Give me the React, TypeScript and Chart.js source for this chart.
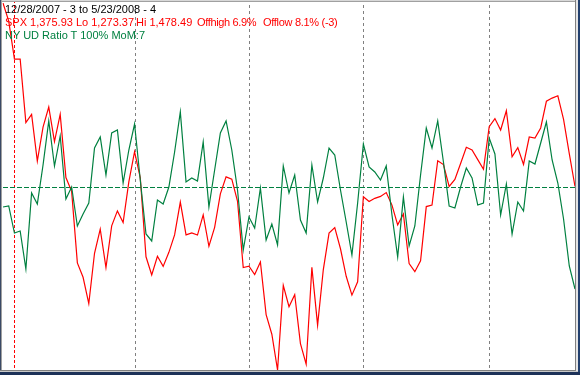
import React, { useEffect, useRef } from "react";
import { Chart, registerables } from "chart.js";

Chart.register(...registerables);

// ---- data ----
const dates: string[] = [
  "12/28/2007", "12/31/2007",
  "1/2/2008", "1/3/2008", "1/4/2008", "1/7/2008", "1/8/2008", "1/9/2008", "1/10/2008", "1/11/2008",
  "1/14/2008", "1/15/2008", "1/16/2008", "1/17/2008", "1/18/2008", "1/22/2008", "1/23/2008", "1/24/2008",
  "1/25/2008", "1/28/2008", "1/29/2008", "1/30/2008", "1/31/2008",
  "2/1/2008", "2/4/2008", "2/5/2008", "2/6/2008", "2/7/2008", "2/8/2008", "2/11/2008", "2/12/2008",
  "2/13/2008", "2/14/2008", "2/15/2008", "2/19/2008", "2/20/2008", "2/21/2008", "2/22/2008", "2/25/2008",
  "2/26/2008", "2/27/2008", "2/28/2008", "2/29/2008",
  "3/3/2008", "3/4/2008", "3/5/2008", "3/6/2008", "3/7/2008", "3/10/2008", "3/11/2008", "3/12/2008",
  "3/13/2008", "3/14/2008", "3/17/2008", "3/18/2008", "3/19/2008", "3/20/2008", "3/24/2008", "3/25/2008",
  "3/26/2008", "3/27/2008", "3/28/2008", "3/31/2008",
  "4/1/2008", "4/2/2008", "4/3/2008", "4/4/2008", "4/7/2008", "4/8/2008", "4/9/2008", "4/10/2008",
  "4/11/2008", "4/14/2008", "4/15/2008", "4/16/2008", "4/17/2008", "4/18/2008", "4/21/2008", "4/22/2008",
  "4/23/2008", "4/24/2008", "4/25/2008", "4/28/2008", "4/29/2008", "4/30/2008",
  "5/1/2008", "5/2/2008", "5/5/2008", "5/6/2008", "5/7/2008", "5/8/2008", "5/9/2008", "5/12/2008",
  "5/13/2008", "5/14/2008", "5/15/2008", "5/16/2008", "5/19/2008", "5/20/2008", "5/22/2008", "5/23/2008",
];

const spxClose: number[] = [
  1478.49, 1468.36,
  1447.16, 1447.16, 1411.63, 1416.18, 1390.19, 1409.13, 1420.33, 1401.02, 1416.25, 1380.95, 1373.2,
  1333.25, 1325.19, 1310.5, 1338.6, 1352.07, 1330.61, 1353.96, 1362.3, 1355.81, 1378.55,
  1395.42, 1380.82, 1336.64, 1326.45, 1336.91, 1331.29, 1339.13, 1348.86, 1367.21, 1348.86, 1349.99,
  1348.78, 1360.03, 1342.53, 1353.11, 1371.8, 1381.29, 1380.02, 1367.68, 1330.63,
  1331.34, 1326.75, 1333.7, 1304.34, 1293.37, 1273.37, 1320.65, 1308.77, 1315.48, 1288.14, 1276.6,
  1330.74, 1298.42, 1329.51, 1349.88, 1352.99, 1341.13, 1325.76, 1315.22, 1322.7,
  1370.18, 1367.53, 1369.31, 1370.4, 1372.54, 1365.54, 1354.49, 1360.55, 1332.83, 1328.32, 1334.43,
  1364.71, 1365.56, 1390.33, 1388.17, 1375.94, 1379.93, 1388.82, 1397.84, 1396.37, 1390.94, 1385.59,
  1409.34, 1413.9, 1407.49, 1418.26, 1392.57, 1397.68, 1388.28, 1403.58, 1403.04, 1408.66, 1423.57,
  1425.35, 1426.63, 1413.4, 1394.35, 1375.93,
];

const udRatioMom: number[] = [
  -10, -9.5, -23, -22, -41, -3, -8.5, 11, 33, 10.5, 25.5, -6, 0, -19.5, -13.5, -8, 19.5, 25, 6, 27,
  28.5, 2, 18.5, 31.5, 3.5, -23.5, -27, -6.5, -8.5, 0, 17.5, 37.5, 2.5, 4.5, 3, 22.5, -10, 8.5, 27, 33,
  18.5, -1.5, -31.5, -15, -20.5, -0.5, -26.5, -18.5, -29, 10.5, -3, 6, -16.5, -23, 11, -7.5, 4.5, 19.5,
  16, -1.5, -17.5, -34, -8, 21.5, 10, 7.5, 3.5, 10.5, -14, -35, -5, -29.5, -19.5, 6, 29.5, 19.5, 33,
  12.5, -9.5, -10.5, 0, 9.5, 4.5, -9, -8, 24.5, 16.5, -14, 1.5, -23.5, -7.5, -12, 13, 11.5, 22, 32.5,
  13.5, 2, -16, -39.5, -51,
];

const spxLow = 1273.37;
const spxHigh = 1478.49;
const udZero = 0;
const yearStart = ["1/2/2008"];
const monthStarts = ["2/1/2008", "3/3/2008", "4/1/2008", "5/1/2008"];

const headerLine1 = "12/28/2007 - 3 to 5/23/2008 - 4";
const headerLine2Parts = ["SPX 1,375.93 Lo 1,273.37", "Hi 1,478.49", "Offhigh 6.9%", "Offlow 8.1% (-3)"];
const headerLine3 = "NY UD Ratio T 100% MoM:7";

const RED = "#ff0000";
const GREEN = "#008040";

const decorPlugin = {
  id: "decor",
  beforeDraw(chart: any) {
    const ctx = chart.ctx;
    ctx.save();
    ctx.fillStyle = "#ffffff";
    ctx.fillRect(0, 0, chart.width, chart.height);
    ctx.restore();
  },
  beforeDatasetsDraw(chart: any) {
    const ctx = chart.ctx;
    const xs = chart.scales.x;
    const y2 = chart.scales.y2;
    const area = chart.chartArea;
    ctx.save();
    ctx.lineWidth = 1;
    ctx.strokeStyle = "#808080";
    ctx.setLineDash([3, 3]);
    monthStarts.forEach((d) => {
      const i = dates.indexOf(d);
      const x = Math.round(xs.getPixelForValue(i)) + 0.5;
      ctx.beginPath();
      ctx.moveTo(x, area.top + 2);
      ctx.lineTo(x, area.bottom);
      ctx.stroke();
    });
    ctx.strokeStyle = RED;
    ctx.setLineDash([3, 2]);
    yearStart.forEach((d) => {
      const i = dates.indexOf(d);
      const x = Math.round(xs.getPixelForValue(i)) + 0.5;
      ctx.beginPath();
      ctx.moveTo(x, 0);
      ctx.lineTo(x, area.bottom);
      ctx.stroke();
    });
    ctx.strokeStyle = GREEN;
    ctx.setLineDash([5, 2]);
    const y = Math.round(y2.getPixelForValue(udZero)) + 0.5;
    ctx.beginPath();
    ctx.moveTo(area.left, y);
    ctx.lineTo(area.right, y);
    ctx.stroke();
    ctx.restore();
  },
  afterDraw(chart: any) {
    const ctx = chart.ctx;
    const w = chart.width;
    const h = chart.height;
    ctx.save();
    ctx.fillStyle = "#d8d8d8";
    ctx.fillRect(0, 0, w, 1);
    ctx.fillStyle = "#a0a0a0";
    ctx.fillRect(0, 1, w, 1);
    ctx.fillStyle = "#3a4a66";
    ctx.fillRect(0, 0, 1, h);
    ctx.fillStyle = "#a0a0a0";
    ctx.fillRect(1, 0, 1, h);
    ctx.fillStyle = "#808080";
    ctx.fillRect(575, 0, 1, h);
    ctx.fillStyle = "#e4e4e4";
    ctx.fillRect(576, 0, 2, h);
    ctx.fillStyle = "#23406e";
    ctx.fillRect(578, 0, 2, h);
    ctx.fillStyle = "#808080";
    ctx.fillRect(0, 370, 576, 1);
    ctx.fillStyle = "#c8c8c8";
    ctx.fillRect(0, 371, 578, 1);
    ctx.fillStyle = "#1d3158";
    ctx.fillRect(0, 372, w, h - 372);
    ctx.restore();
  },
};

export default function App() {
  const ref = useRef<HTMLCanvasElement>(null);

  useEffect(() => {
    document.body.style.margin = "0";
    const canvas = ref.current;
    if (!canvas) return;
    const chart = new Chart(canvas, {
      type: "line",
      data: {
        labels: dates,
        datasets: [
          {
            label: "NY UD Ratio",
            data: udRatioMom,
            yAxisID: "y2",
            borderColor: GREEN,
            borderWidth: 1.2,
            pointRadius: 0,
            tension: 0,
            fill: false,
            order: 1,
          },
          {
            label: "SPX",
            data: spxClose,
            yAxisID: "y",
            borderColor: RED,
            borderWidth: 1.2,
            pointRadius: 0,
            tension: 0,
            fill: false,
            order: 2,
          },
        ],
      },
      options: {
        responsive: false,
        animation: false,
        devicePixelRatio: 1,
        layout: { padding: { left: 3, right: 5, top: 3, bottom: 5 } },
        plugins: {
          legend: { display: false },
          tooltip: { enabled: false },
          title: { display: false },
        },
        scales: {
          x: { type: "category", display: false, offset: false },
          y: { type: "linear", display: false, min: spxLow, max: spxHigh },
          y2: { type: "linear", display: false, min: -91.5, max: 92 },
        },
      },
      plugins: [decorPlugin],
    } as any);
    return () => chart.destroy();
  }, []);

  const textBase: React.CSSProperties = {
    position: "absolute",
    fontFamily: "'Liberation Sans', Arial, sans-serif",
    fontSize: 11,
    lineHeight: "13px",
    whiteSpace: "pre",
  };
  const line2Left = [5, 136, 197, 263];
  const line2Spacing = [0, 0, -0.35, -0.3];

  return (
    <div style={{ position: "relative", width: 580, height: 375, overflow: "hidden" }}>
      <canvas ref={ref} width={580} height={375} style={{ display: "block", width: 580, height: 375 }} />
      <div style={{ ...textBase, left: 5, top: 3, color: "#000000" }}>{headerLine1}</div>
      {headerLine2Parts.map((t, i) => (
        <span
          key={i}
          style={{ ...textBase, left: line2Left[i], top: 16, color: RED, letterSpacing: line2Spacing[i] }}
        >
          {t}
        </span>
      ))}
      <div style={{ ...textBase, left: 5, top: 29, color: GREEN }}>{headerLine3}</div>
    </div>
  );
}
